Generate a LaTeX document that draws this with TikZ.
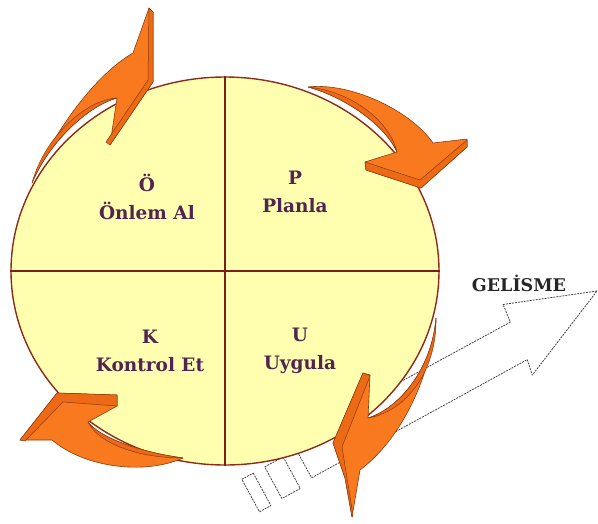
\documentclass[tikz,border=0pt]{standalone}
\usepackage{fontspec}
\setmainfont{DejaVu Serif}
\usepackage{tikz}
\usetikzlibrary{shapes.geometric}
\definecolor{pdyellow}{HTML}{FFFFAF}
\definecolor{pdrim}   {HTML}{8E2B1B}
\definecolor{pdline}  {HTML}{7B1E1E}
\definecolor{pdtext}  {HTML}{532453}
\definecolor{pdorange}{HTML}{F97A1E}
\definecolor{pdshade} {HTML}{EC6A16}
\definecolor{pdedge}  {HTML}{8B3A12}

\begin{document}
\begin{tikzpicture}[
  x=1pt, y=-1pt,
  wheel/.style={
    ellipse, draw=pdrim, line width=1.4pt, fill=pdyellow,
    minimum width=428pt, minimum height=388pt, inner sep=0pt
  },
  divider/.style={draw=pdline, line width=2.4pt},
  phase/.style={font=\fontsize{18.5}{28}\selectfont\bfseries, text=pdtext, align=center},
  devtext/.style={font=\fontsize{17.5}{20}\selectfont\bfseries, text=black!85},
  devarrow/.style={fill=white, draw=gray!55!black, line width=0.8pt,
                   dash pattern=on 2pt off 1pt, line join=round},
  turn/.style={fill=pdorange, draw=pdedge, line width=0.6pt, line join=round},
  face/.style={fill=pdshade, draw=pdedge, line width=0.5pt, line join=round}
]
\useasboundingbox (0,0) rectangle (598,523);

% Development arrow (behind everything)
\begin{scope}[shift={(597,291)}, rotate=28.5]
  \draw[devarrow] (0,0) -- (-89,-33) -- (-91,-14) -- (-340,-14) -- (-340,28)
    -- (-94,27) -- (-97,43) -- cycle;
  \draw[devarrow] (-355,-4) rectangle (-376,32);
  \draw[devarrow] (-389,-4) rectangle (-402,33);
\end{scope}
\node[devtext] (gelisme) at (519,283) {GELİSME};

% Wheel
\node[wheel] (wheel) at (225,271) {};
\draw[divider] (wheel.north) -- (wheel.south);
\draw[divider] (wheel.west) -- (wheel.east);

% Phases
\node[phase] (onlem)   at (147,197) {Ö\\Önlem Al};
\node[phase] (planla)  at (295,192) {P\\Planla};
\node[phase] (kontrol) at (150,351) {K\\Kontrol Et};
\node[phase] (uygula)  at (300,351) {U\\Uygula};

% Turn arrows
% K -> Ö
\draw[turn] (32,183) .. controls (55,130) and (95,75) .. (133,53) -- (149,8)
  -- (153,12) -- (153,82) -- (110,145) -- (117,98)
  .. controls (90,105) and (50,140) .. (32,183) -- cycle;
\draw[face] (117,98) .. controls (90,105) and (50,140) .. (32,183)
  .. controls (45,136) and (86,100) .. (117,98) -- cycle;
\draw[face] (149,8) -- (153,12) -- (153,82) -- (110,145) -- (106,142) -- (148,80) -- cycle;

% Ö -> P
\draw[turn] (308,87) .. controls (350,82) and (410,110) .. (433,143) -- (467,139)
  -- (467,147) -- (421,188) -- (366,170) -- (365,162) -- (397,152)
  .. controls (385,125) and (345,97) .. (308,87) -- cycle;
\draw[face] (397,152) .. controls (385,125) and (345,97) .. (308,87)
  .. controls (349,91) and (389,119) .. (397,152) -- cycle;
\draw[face] (365,162) -- (420,180) -- (467,140) -- (467,147) -- (421,188) -- (366,170) -- cycle;

% P -> U
\draw[turn] (436,318) .. controls (430,380) and (400,440) .. (360,470) -- (352,517)
  -- (345,478) -- (333,443) -- (363,373) -- (370,375) -- (368,418)
  .. controls (400,408) and (432,368) .. (436,318) -- cycle;
\draw[face] (368,418) .. controls (400,408) and (432,368) .. (436,318)
  .. controls (437,372) and (405,412) .. (368,418) -- cycle;
\draw[face] (333,443) -- (363,373) -- (370,376) -- (342,447) -- (353,515) -- (352,517)
  -- (345,478) -- cycle;

% U -> K
\draw[turn] (183,458) .. controls (145,475) and (85,468) .. (52,440) -- (20,440)
  -- (57,393) -- (117,395) -- (117,406) -- (88,422)
  .. controls (100,438) and (140,452) .. (183,458) -- cycle;
\draw[face] (88,422) .. controls (100,438) and (140,452) .. (183,458)
  .. controls (139,458) and (99,444) .. (88,422) -- cycle;
\draw[face] (20,440) -- (57,393) -- (117,395) -- (117,406) -- (63,402) -- (25,441) -- cycle;

\end{tikzpicture}
\end{document}
